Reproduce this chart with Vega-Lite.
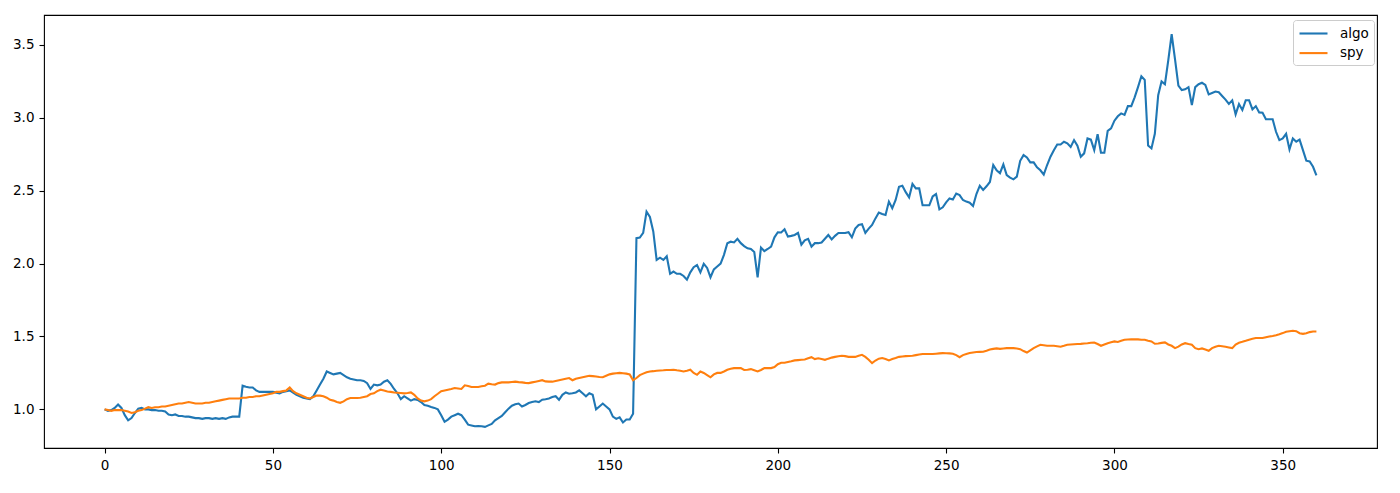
{
"$schema": "https://vega.github.io/schema/vega-lite/v6.json",
"width": 1333, "height": 433,
"autosize": {"type": "none"},
"padding": {"left": 44, "top": 15, "right": 23, "bottom": 45},
"background": "white",
"config": {"view": {"stroke": "#000", "strokeWidth": 1.1}, "font": "DejaVu Sans"},
"data": {"values": [
{"t":0,"algo":1.0,"spy":1.0},{"t":1,"algo":0.99,"spy":0.995},{"t":2,"algo":0.995,"spy":0.99},{"t":3,"algo":1.01,"spy":0.995},{"t":4,"algo":1.034,"spy":0.995},
{"t":5,"algo":1.01,"spy":0.995},{"t":6,"algo":0.96,"spy":0.99},{"t":7,"algo":0.925,"spy":0.985},{"t":8,"algo":0.94,"spy":0.975},{"t":9,"algo":0.975,"spy":0.98},
{"t":10,"algo":1.005,"spy":0.99},{"t":11,"algo":1.01,"spy":0.995},{"t":12,"algo":1.0,"spy":1.005},{"t":13,"algo":1.0,"spy":1.015},{"t":14,"algo":0.995,"spy":1.01},
{"t":15,"algo":0.995,"spy":1.015},{"t":16,"algo":0.99,"spy":1.015},{"t":17,"algo":0.99,"spy":1.02},{"t":18,"algo":0.985,"spy":1.02},{"t":19,"algo":0.965,"spy":1.025},
{"t":20,"algo":0.96,"spy":1.03},{"t":21,"algo":0.965,"spy":1.035},{"t":22,"algo":0.955,"spy":1.04},{"t":23,"algo":0.955,"spy":1.04},{"t":24,"algo":0.95,"spy":1.045},
{"t":25,"algo":0.95,"spy":1.05},{"t":26,"algo":0.945,"spy":1.045},{"t":27,"algo":0.94,"spy":1.04},{"t":28,"algo":0.94,"spy":1.04},{"t":29,"algo":0.935,"spy":1.04},
{"t":30,"algo":0.94,"spy":1.045},{"t":31,"algo":0.94,"spy":1.045},{"t":32,"algo":0.935,"spy":1.05},{"t":33,"algo":0.94,"spy":1.055},{"t":34,"algo":0.935,"spy":1.06},
{"t":35,"algo":0.94,"spy":1.065},{"t":36,"algo":0.935,"spy":1.07},{"t":37,"algo":0.945,"spy":1.075},{"t":38,"algo":0.95,"spy":1.075},{"t":39,"algo":0.95,"spy":1.075},
{"t":40,"algo":0.95,"spy":1.075},{"t":41,"algo":1.162,"spy":1.08},{"t":42,"algo":1.155,"spy":1.08},{"t":43,"algo":1.15,"spy":1.085},{"t":44,"algo":1.15,"spy":1.085},
{"t":45,"algo":1.13,"spy":1.09},{"t":46,"algo":1.12,"spy":1.09},{"t":47,"algo":1.12,"spy":1.095},{"t":48,"algo":1.12,"spy":1.1},{"t":49,"algo":1.12,"spy":1.105},
{"t":50,"algo":1.12,"spy":1.11},{"t":51,"algo":1.115,"spy":1.12},{"t":52,"algo":1.11,"spy":1.12},{"t":53,"algo":1.12,"spy":1.125},{"t":54,"algo":1.125,"spy":1.13},
{"t":55,"algo":1.13,"spy":1.15},{"t":56,"algo":1.115,"spy":1.125},{"t":57,"algo":1.1,"spy":1.11},{"t":58,"algo":1.09,"spy":1.1},{"t":59,"algo":1.08,"spy":1.09},
{"t":60,"algo":1.075,"spy":1.08},{"t":61,"algo":1.07,"spy":1.075},{"t":62,"algo":1.09,"spy":1.085},{"t":63,"algo":1.13,"spy":1.095},{"t":64,"algo":1.17,"spy":1.094},
{"t":65,"algo":1.21,"spy":1.09},{"t":66,"algo":1.26,"spy":1.08},{"t":67,"algo":1.25,"spy":1.065},{"t":68,"algo":1.24,"spy":1.06},{"t":69,"algo":1.245,"spy":1.05},
{"t":70,"algo":1.25,"spy":1.045},{"t":71,"algo":1.235,"spy":1.055},{"t":72,"algo":1.22,"spy":1.07},{"t":73,"algo":1.21,"spy":1.078},{"t":74,"algo":1.205,"spy":1.078},
{"t":75,"algo":1.2,"spy":1.078},{"t":76,"algo":1.2,"spy":1.08},{"t":77,"algo":1.195,"spy":1.085},{"t":78,"algo":1.18,"spy":1.09},{"t":79,"algo":1.14,"spy":1.105},
{"t":80,"algo":1.17,"spy":1.11},{"t":81,"algo":1.165,"spy":1.125},{"t":82,"algo":1.17,"spy":1.135},{"t":83,"algo":1.19,"spy":1.13},{"t":84,"algo":1.2,"spy":1.123},
{"t":85,"algo":1.175,"spy":1.12},{"t":86,"algo":1.14,"spy":1.116},{"t":87,"algo":1.11,"spy":1.114},{"t":88,"algo":1.07,"spy":1.112},{"t":89,"algo":1.09,"spy":1.11},
{"t":90,"algo":1.075,"spy":1.112},{"t":91,"algo":1.06,"spy":1.116},{"t":92,"algo":1.07,"spy":1.1},{"t":93,"algo":1.065,"spy":1.075},{"t":94,"algo":1.05,"spy":1.06},
{"t":95,"algo":1.03,"spy":1.055},{"t":96,"algo":1.025,"spy":1.06},{"t":97,"algo":1.016,"spy":1.07},{"t":98,"algo":1.01,"spy":1.09},{"t":99,"algo":1.0,"spy":1.107},
{"t":100,"algo":0.96,"spy":1.125},{"t":101,"algo":0.915,"spy":1.13},{"t":102,"algo":0.93,"spy":1.135},{"t":103,"algo":0.95,"spy":1.14},{"t":104,"algo":0.96,"spy":1.146},
{"t":105,"algo":0.97,"spy":1.143},{"t":106,"algo":0.96,"spy":1.14},{"t":107,"algo":0.93,"spy":1.165},{"t":108,"algo":0.895,"spy":1.16},{"t":109,"algo":0.89,"spy":1.153},
{"t":110,"algo":0.884,"spy":1.153},{"t":111,"algo":0.885,"spy":1.153},{"t":112,"algo":0.884,"spy":1.158},{"t":113,"algo":0.88,"spy":1.162},{"t":114,"algo":0.89,"spy":1.176},
{"t":115,"algo":0.9,"spy":1.172},{"t":116,"algo":0.925,"spy":1.17},{"t":117,"algo":0.94,"spy":1.18},{"t":118,"algo":0.955,"spy":1.185},{"t":119,"algo":0.98,"spy":1.185},
{"t":120,"algo":1.005,"spy":1.185},{"t":121,"algo":1.025,"spy":1.188},{"t":122,"algo":1.035,"spy":1.19},{"t":123,"algo":1.04,"spy":1.187},{"t":124,"algo":1.02,"spy":1.185},
{"t":125,"algo":1.03,"spy":1.182},{"t":126,"algo":1.043,"spy":1.18},{"t":127,"algo":1.05,"spy":1.185},{"t":128,"algo":1.055,"spy":1.19},{"t":129,"algo":1.05,"spy":1.195},
{"t":130,"algo":1.066,"spy":1.2},{"t":131,"algo":1.07,"spy":1.192},{"t":132,"algo":1.075,"spy":1.19},{"t":133,"algo":1.085,"spy":1.19},{"t":134,"algo":1.09,"spy":1.195},
{"t":135,"algo":1.066,"spy":1.2},{"t":136,"algo":1.1,"spy":1.205},{"t":137,"algo":1.116,"spy":1.21},{"t":138,"algo":1.107,"spy":1.215},{"t":139,"algo":1.11,"spy":1.2},
{"t":140,"algo":1.116,"spy":1.21},{"t":141,"algo":1.13,"spy":1.215},{"t":142,"algo":1.11,"spy":1.22},{"t":143,"algo":1.09,"spy":1.225},{"t":144,"algo":1.11,"spy":1.23},
{"t":145,"algo":1.1,"spy":1.228},{"t":146,"algo":1.0,"spy":1.225},{"t":147,"algo":1.02,"spy":1.222},{"t":148,"algo":1.04,"spy":1.22},{"t":149,"algo":1.02,"spy":1.23},
{"t":150,"algo":1.0,"spy":1.24},{"t":151,"algo":0.95,"spy":1.245},{"t":152,"algo":0.935,"spy":1.248},{"t":153,"algo":0.945,"spy":1.25},{"t":154,"algo":0.91,"spy":1.248},
{"t":155,"algo":0.93,"spy":1.245},{"t":156,"algo":0.93,"spy":1.24},{"t":157,"algo":0.97,"spy":1.2},{"t":158,"algo":2.174,"spy":1.215},{"t":159,"algo":2.178,"spy":1.235},
{"t":160,"algo":2.21,"spy":1.245},{"t":161,"algo":2.356,"spy":1.255},{"t":162,"algo":2.32,"spy":1.26},{"t":163,"algo":2.22,"spy":1.262},{"t":164,"algo":2.025,"spy":1.265},
{"t":165,"algo":2.04,"spy":1.267},{"t":166,"algo":2.025,"spy":1.268},{"t":167,"algo":2.05,"spy":1.27},{"t":168,"algo":1.93,"spy":1.27},{"t":169,"algo":1.945,"spy":1.272},
{"t":170,"algo":1.93,"spy":1.268},{"t":171,"algo":1.93,"spy":1.265},{"t":172,"algo":1.915,"spy":1.26},{"t":173,"algo":1.89,"spy":1.265},{"t":174,"algo":1.94,"spy":1.272},
{"t":175,"algo":1.975,"spy":1.25},{"t":176,"algo":1.99,"spy":1.237},{"t":177,"algo":1.94,"spy":1.26},{"t":178,"algo":1.998,"spy":1.25},{"t":179,"algo":1.97,"spy":1.235},
{"t":180,"algo":1.906,"spy":1.22},{"t":181,"algo":1.96,"spy":1.24},{"t":182,"algo":1.98,"spy":1.25},{"t":183,"algo":2.0,"spy":1.25},{"t":184,"algo":2.06,"spy":1.26},
{"t":185,"algo":2.14,"spy":1.272},{"t":186,"algo":2.15,"spy":1.278},{"t":187,"algo":2.145,"spy":1.283},{"t":188,"algo":2.17,"spy":1.283},{"t":189,"algo":2.14,"spy":1.283},
{"t":190,"algo":2.12,"spy":1.27},{"t":191,"algo":2.105,"spy":1.272},{"t":192,"algo":2.1,"spy":1.276},{"t":193,"algo":2.08,"spy":1.268},{"t":194,"algo":1.906,"spy":1.26},
{"t":195,"algo":2.11,"spy":1.27},{"t":196,"algo":2.085,"spy":1.283},{"t":197,"algo":2.1,"spy":1.283},{"t":198,"algo":2.116,"spy":1.283},{"t":199,"algo":2.18,"spy":1.29},
{"t":200,"algo":2.215,"spy":1.31},{"t":201,"algo":2.213,"spy":1.32},{"t":202,"algo":2.235,"spy":1.32},{"t":203,"algo":2.185,"spy":1.325},{"t":204,"algo":2.19,"spy":1.33},
{"t":205,"algo":2.196,"spy":1.336},{"t":206,"algo":2.21,"spy":1.338},{"t":207,"algo":2.13,"spy":1.34},{"t":208,"algo":2.16,"spy":1.342},{"t":209,"algo":2.17,"spy":1.35},
{"t":210,"algo":2.116,"spy":1.358},{"t":211,"algo":2.14,"spy":1.345},{"t":212,"algo":2.14,"spy":1.35},{"t":213,"algo":2.145,"spy":1.345},{"t":214,"algo":2.17,"spy":1.34},
{"t":215,"algo":2.196,"spy":1.348},{"t":216,"algo":2.166,"spy":1.355},{"t":217,"algo":2.19,"spy":1.36},{"t":218,"algo":2.21,"spy":1.364},{"t":219,"algo":2.21,"spy":1.368},
{"t":220,"algo":2.21,"spy":1.365},{"t":221,"algo":2.215,"spy":1.36},{"t":222,"algo":2.18,"spy":1.36},{"t":223,"algo":2.24,"spy":1.36},{"t":224,"algo":2.265,"spy":1.367},
{"t":225,"algo":2.27,"spy":1.374},{"t":226,"algo":2.21,"spy":1.36},{"t":227,"algo":2.24,"spy":1.34},{"t":228,"algo":2.265,"spy":1.317},{"t":229,"algo":2.31,"spy":1.335},
{"t":230,"algo":2.35,"spy":1.348},{"t":231,"algo":2.34,"spy":1.352},{"t":232,"algo":2.333,"spy":1.345},{"t":233,"algo":2.425,"spy":1.336},{"t":234,"algo":2.38,"spy":1.345},
{"t":235,"algo":2.436,"spy":1.352},{"t":236,"algo":2.527,"spy":1.36},{"t":237,"algo":2.534,"spy":1.363},{"t":238,"algo":2.49,"spy":1.365},{"t":239,"algo":2.454,"spy":1.366},
{"t":240,"algo":2.546,"spy":1.368},{"t":241,"algo":2.516,"spy":1.372},{"t":242,"algo":2.516,"spy":1.376},{"t":243,"algo":2.4,"spy":1.38},{"t":244,"algo":2.4,"spy":1.38},
{"t":245,"algo":2.4,"spy":1.38},{"t":246,"algo":2.46,"spy":1.38},{"t":247,"algo":2.477,"spy":1.382},{"t":248,"algo":2.372,"spy":1.384},{"t":249,"algo":2.386,"spy":1.386},
{"t":250,"algo":2.42,"spy":1.385},{"t":251,"algo":2.447,"spy":1.384},{"t":252,"algo":2.44,"spy":1.382},{"t":253,"algo":2.48,"spy":1.372},{"t":254,"algo":2.47,"spy":1.358},
{"t":255,"algo":2.436,"spy":1.372},{"t":256,"algo":2.425,"spy":1.38},{"t":257,"algo":2.418,"spy":1.386},{"t":258,"algo":2.395,"spy":1.39},{"t":259,"algo":2.477,"spy":1.393},
{"t":260,"algo":2.534,"spy":1.394},{"t":261,"algo":2.505,"spy":1.395},{"t":262,"algo":2.53,"spy":1.402},{"t":263,"algo":2.56,"spy":1.41},{"t":264,"algo":2.676,"spy":1.415},
{"t":265,"algo":2.64,"spy":1.418},{"t":266,"algo":2.62,"spy":1.415},{"t":267,"algo":2.68,"spy":1.418},{"t":268,"algo":2.607,"spy":1.42},{"t":269,"algo":2.59,"spy":1.42},
{"t":270,"algo":2.578,"spy":1.42},{"t":271,"algo":2.596,"spy":1.417},{"t":272,"algo":2.705,"spy":1.413},{"t":273,"algo":2.744,"spy":1.4},{"t":274,"algo":2.728,"spy":1.39},
{"t":275,"algo":2.694,"spy":1.405},{"t":276,"algo":2.694,"spy":1.42},{"t":277,"algo":2.66,"spy":1.432},{"t":278,"algo":2.64,"spy":1.443},{"t":279,"algo":2.61,"spy":1.44},
{"t":280,"algo":2.676,"spy":1.436},{"t":281,"algo":2.733,"spy":1.436},{"t":282,"algo":2.778,"spy":1.436},{"t":283,"algo":2.817,"spy":1.433},{"t":284,"algo":2.817,"spy":1.43},
{"t":285,"algo":2.836,"spy":1.436},{"t":286,"algo":2.825,"spy":1.443},{"t":287,"algo":2.8,"spy":1.445},{"t":288,"algo":2.847,"spy":1.447},{"t":289,"algo":2.808,"spy":1.448},
{"t":290,"algo":2.733,"spy":1.449},{"t":291,"algo":2.756,"spy":1.452},{"t":292,"algo":2.858,"spy":1.454},{"t":293,"algo":2.85,"spy":1.457},{"t":294,"algo":2.778,"spy":1.459},
{"t":295,"algo":2.888,"spy":1.448},{"t":296,"algo":2.76,"spy":1.436},{"t":297,"algo":2.76,"spy":1.445},{"t":298,"algo":2.91,"spy":1.454},{"t":299,"algo":2.927,"spy":1.46},
{"t":300,"algo":2.98,"spy":1.466},{"t":301,"algo":3.01,"spy":1.462},{"t":302,"algo":3.03,"spy":1.47},{"t":303,"algo":3.02,"spy":1.477},{"t":304,"algo":3.08,"spy":1.479},
{"t":305,"algo":3.08,"spy":1.48},{"t":306,"algo":3.14,"spy":1.48},{"t":307,"algo":3.21,"spy":1.48},{"t":308,"algo":3.285,"spy":1.478},{"t":309,"algo":3.26,"spy":1.477},
{"t":310,"algo":2.81,"spy":1.47},{"t":311,"algo":2.79,"spy":1.466},{"t":312,"algo":2.89,"spy":1.45},{"t":313,"algo":3.155,"spy":1.452},{"t":314,"algo":3.25,"spy":1.456},
{"t":315,"algo":3.23,"spy":1.459},{"t":316,"algo":3.395,"spy":1.445},{"t":317,"algo":3.573,"spy":1.436},{"t":318,"algo":3.4,"spy":1.42},{"t":319,"algo":3.22,"spy":1.43},
{"t":320,"algo":3.19,"spy":1.445},{"t":321,"algo":3.195,"spy":1.454},{"t":322,"algo":3.21,"spy":1.448},{"t":323,"algo":3.087,"spy":1.443},{"t":324,"algo":3.21,"spy":1.42},
{"t":325,"algo":3.23,"spy":1.413},{"t":326,"algo":3.24,"spy":1.418},{"t":327,"algo":3.225,"spy":1.41},{"t":328,"algo":3.16,"spy":1.402},{"t":329,"algo":3.17,"spy":1.42},
{"t":330,"algo":3.18,"spy":1.43},{"t":331,"algo":3.175,"spy":1.436},{"t":332,"algo":3.15,"spy":1.433},{"t":333,"algo":3.125,"spy":1.43},{"t":334,"algo":3.095,"spy":1.425},
{"t":335,"algo":3.12,"spy":1.42},{"t":336,"algo":3.023,"spy":1.445},{"t":337,"algo":3.094,"spy":1.457},{"t":338,"algo":3.053,"spy":1.463},{"t":339,"algo":3.12,"spy":1.47},
{"t":340,"algo":3.12,"spy":1.478},{"t":341,"algo":3.057,"spy":1.484},{"t":342,"algo":3.08,"spy":1.489},{"t":343,"algo":3.037,"spy":1.489},{"t":344,"algo":3.035,"spy":1.489},
{"t":345,"algo":2.99,"spy":1.495},{"t":346,"algo":2.99,"spy":1.5},{"t":347,"algo":2.99,"spy":1.503},{"t":348,"algo":2.904,"spy":1.508},{"t":349,"algo":2.847,"spy":1.515},
{"t":350,"algo":2.858,"spy":1.523},{"t":351,"algo":2.89,"spy":1.532},{"t":352,"algo":2.783,"spy":1.536},{"t":353,"algo":2.858,"spy":1.539},{"t":354,"algo":2.836,"spy":1.536},
{"t":355,"algo":2.85,"spy":1.522},{"t":356,"algo":2.778,"spy":1.518},{"t":357,"algo":2.706,"spy":1.522},{"t":358,"algo":2.7,"spy":1.53},{"t":359,"algo":2.664,"spy":1.534},
{"t":360,"algo":2.605,"spy":1.534}
]},
"transform": [{"fold": ["algo", "spy"], "as": ["series", "value"]}],
"mark": {"type": "line", "strokeWidth": 2.1, "interpolate": "linear", "clip": true},
"encoding": {
  "x": {"field": "t", "type": "quantitative",
    "scale": {"domain": [-18, 378], "nice": false, "zero": false},
    "axis": {"values": [0, 50, 100, 150, 200, 250, 300, 350], "format": "d", "title": null, "grid": false, "domain": false,
      "tickColor": "#000", "tickSize": 5, "tickWidth": 1.1, "labelPadding": 5, "labelFontSize": 13.5, "labelColor": "#000", "labelFont": "DejaVu Sans"}},
  "y": {"field": "value", "type": "quantitative",
    "scale": {"domain": [0.735, 3.705], "nice": false, "zero": false},
    "axis": {"values": [1.0, 1.5, 2.0, 2.5, 3.0, 3.5], "format": ".1f", "title": null, "grid": false, "domain": false,
      "tickColor": "#000", "tickSize": 5, "tickWidth": 1.1, "labelPadding": 5, "labelFontSize": 13.5, "labelColor": "#000", "labelFont": "DejaVu Sans"}},
  "color": {"field": "series", "type": "nominal",
    "scale": {"domain": ["algo", "spy"], "range": ["#1f77b4", "#ff7f0e"]},
    "legend": {"title": null, "orient": "none", "legendX": 1249, "legendY": 5,
      "fillColor": "white", "strokeColor": "#cccccc", "cornerRadius": 3, "padding": 5,
      "symbolType": "M-1,0H3", "symbolSize": 196, "symbolStrokeWidth": 2.1, "symbolOffset": 0,
      "labelFontSize": 13.5, "labelFont": "DejaVu Sans", "labelColor": "#000", "labelOffset": 25, "rowPadding": 4.6}}
}
}
